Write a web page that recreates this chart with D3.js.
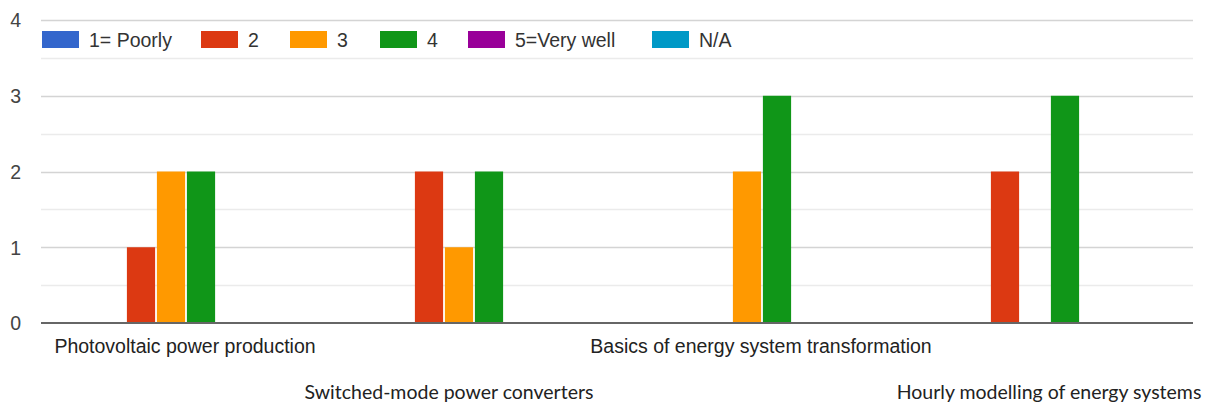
<!DOCTYPE html>
<html><head><meta charset="utf-8">
<script src="https://cdn.jsdelivr.net/npm/d3@7"></script>
<style>body{margin:0;background:#fff;}svg{display:block;}</style>
</head><body>
<svg id="c" width="1207" height="403"></svg>
<script>
const categories = ["Photovoltaic power production","Switched-mode power converters","Basics of energy system transformation","Hourly modelling of energy systems"];
const seriesNames = ["1= Poorly","2","3","4","5=Very well","N/A"];
const seriesColors = ["#3366cc","#dc3912","#ff9900","#109618","#990099","#0099c6"];
const poorly = [0,0,0,0];
const two = [1,2,0,2];
const three = [2,1,2,0];
const four = [2,2,3,3];
const veryWell = [0,0,0,0];
const na = [0,0,0,0];
const yTicks = [0,1,2,3,4];

const seriesValues = [poorly,two,three,four,veryWell,na];
const svg = d3.select("#c");
const L = 41, R = 1193, T = 20, B = 323;
const font = "'Liberation Sans', Arial, sans-serif";

const y = d3.scaleLinear().domain([0,4]).range([B,T]);
const x0 = d3.scaleBand().domain(categories).range([L,R]).paddingInner(0.375).paddingOuter(0.1875);
const x1 = d3.scaleBand().domain(seriesNames).range([0,x0.bandwidth()]).paddingInner(0.06).paddingOuter(0.03);

// minor gridlines
svg.append("g").selectAll("line").data(d3.range(0.5,4,1)).join("line")
  .attr("x1",L).attr("x2",R).attr("y1",d=>Math.round(y(d))+0.5).attr("y2",d=>Math.round(y(d))+0.5)
  .attr("stroke","#ebebeb").attr("stroke-width",1.5);
// major gridlines
svg.append("g").selectAll("line").data(yTicks.slice(1)).join("line")
  .attr("x1",L).attr("x2",R).attr("y1",d=>Math.round(y(d))+0.5).attr("y2",d=>Math.round(y(d))+0.5)
  .attr("stroke","#d4d4d4").attr("stroke-width",1.5);

// y labels
const yAxis = d3.axisLeft(y).tickValues(yTicks).tickSize(0).tickPadding(0).tickFormat(d3.format("d"));
const ya = svg.append("g").attr("transform",`translate(${L-20},0)`).call(yAxis);
ya.select(".domain").remove();
ya.selectAll("text").attr("font-family",font).attr("font-size",19.5).attr("fill","#444").attr("dy","0.35em");

// bars
const groups = svg.append("g").selectAll("g").data(categories).join("g")
  .attr("transform",d=>`translate(${x0(d)},0)`);
groups.selectAll("rect").data((c,i)=>seriesNames.map((s,j)=>({s,j,v:seriesValues[j][i]})).filter(d=>d.v>0)).join("rect")
  .attr("x",d=>x1(d.s)+1).attr("width",x1.bandwidth())
  .attr("y",d=>y(d.v)).attr("height",d=>y(0)-y(d.v))
  .attr("fill",d=>seriesColors[d.j]);

// baseline
svg.append("line").attr("x1",L).attr("x2",R).attr("y1",B).attr("y2",B).attr("stroke","#666").attr("stroke-width",2);

// x labels (staggered)
const xl = svg.append("g");
const labelShift = [0,-24,0,0];
categories.forEach((c,i)=>{
  const second = i%2===1;
  xl.append("text").attr("x",x0(c)+x0.bandwidth()/2+labelShift[i]).attr("y",second?399:353)
    .attr("text-anchor","middle")
    .attr("font-family",second?"Lato, 'Open Sans', sans-serif":font)
    .attr("font-size",19.5).attr("fill","#222").text(c);
});

// legend
const legendX = [42,201,290,380,468,652];
const lg = svg.append("g").selectAll("g").data(seriesNames).join("g")
  .attr("transform",(d,i)=>`translate(${legendX[i]},31)`);
lg.append("rect").attr("width",37).attr("height",17).attr("fill",(d,i)=>seriesColors[i]);
lg.append("text").attr("x",47).attr("y",16).attr("font-family",font).attr("font-size",19.5).attr("fill","#333").text(d=>d);
</script>
</body></html>
